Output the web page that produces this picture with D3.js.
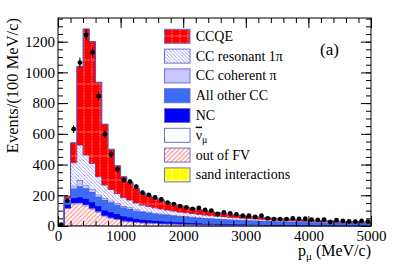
<!DOCTYPE html>
<html>
<head>
<meta charset="utf-8">
<script src="https://cdn.jsdelivr.net/npm/d3@7"></script>
<style>
  html, body { margin: 0; padding: 0; background: #fff; }
  svg { display: block; }
  svg text { font-family: "Liberation Serif", "Times New Roman", serif; fill: #000; }
</style>
</head>
<body>
<svg id="chart" width="399" height="270"></svg>
<script>
// lower edge of each 100 MeV/c bin
const binEdges = d3.range(0, 5000, 100);
const binWidth = 100;

// MC components, events per bin (bottom of stack first)
const sand    = [0,2,4,4,4,3,3,2,2,2, 2,2,1,1,1,1,1,1,1,1, 1,1,0,0,0,0,0,0,0,0, 0,0,0,0,0,0,0,0,0,0, 0,0,0,0,0,0,0,0,0,0];
const outFV   = [3,112,140,142,128,108,88,62,50,40, 30,26,22,19,17,15,13,12,11,10, 9,8,8,7,7,6,6,5,5,5, 4,4,4,3,3,3,3,3,2,2, 2,2,2,2,2,1,1,1,1,1];
const antiNu  = [0,3,5,6,6,5,5,5,4,4, 3,3,3,3,3,3,3,3,2,2, 2,2,2,2,2,2,2,2,2,2, 2,2,1,1,1,1,1,1,1,1, 1,1,1,1,1,1,1,1,1,1];
const nc      = [1,24,35,38,42,42,36,35,36,34, 30,27,24,21,19,17,16,15,14,13, 12,11,10,9,9,8,8,7,7,6, 6,6,5,5,5,5,4,4,4,4, 4,3,3,3,3,3,3,3,3,3];
const otherCC = [0,22,60,68,65,63,58,65,63,58, 55,54,50,47,46,44,42,40,38,37, 36,35,33,32,30,29,28,27,26,25, 24,23,23,22,21,20,20,19,19,18, 17,17,17,16,16,15,15,14,14,13];
const ccCoh   = [0,4,18,41,21,16,14,11,10,10, 10,9,8,7,6,5,5,4,4,3, 3,3,3,2,2,2,2,2,1,1, 1,1,1,1,1,1,1,1,1,1, 1,1,0,0,0,0,0,0,0,0];
const ccRes   = [0,14,150,228,196,171,117,87,73,64, 55,48,42,38,36,33,31,29,27,25, 23,21,20,19,17,16,15,14,13,12, 11,10,10,9,8,7,7,6,6,5, 5,4,4,4,3,3,3,3,2,2];
const ccqe    = [1,14,130,513,821,793,615,396,262,180, 136,115,95,78,70,64,57,51,45,41, 37,34,31,29,26,24,21,20,18,17, 16,14,13,13,12,11,10,10,9,9, 8,8,8,7,7,7,6,6,6,6];

// data, events per bin
const dataCounts = [8,165,630,1064,1244,1129,845,598,466,369, 299,288,256,217,202,186,173,152,143,130,
                    121,112,118,104,100,78,89,82,76,67, 67,60,67,50,45,45,45,50,46,48,
                    42,40,42,26,38,33,30,29,33,29];

const xMajor = [0, 1000, 2000, 3000, 4000, 5000];
const yMajor = [0, 200, 400, 600, 800, 1000, 1200];

const legendLabels = ["CCQE", "CC resonant 1\u03C0", "CC coherent \u03C0", "All other CC", "NC", "nubar", "out of FV", "sand interactions"];

const keys = ["sand", "outFV", "antiNu", "nc", "otherCC", "ccCoh", "ccRes", "ccqe"];
const series = { sand, outFV, antiNu, nc, otherCC, ccCoh, ccRes, ccqe };
const fills = {
  ccqe: "url(#pQE)", ccRes: "url(#pRes)", ccCoh: "#c8c8ff", otherCC: "#3b6cf5",
  nc: "#0000ff", antiNu: "#ffffff", outFV: "url(#pFV)", sand: "url(#pSand)"
};
const outline = "#5252c4";

const svg = d3.select("#chart");
const x = d3.scaleLinear().domain([0, 5000]).range([58, 371]);
const y = d3.scaleLinear().domain([0, 1354]).range([226, 18]);

// patterns
const defs = svg.append("defs");
const pQE = defs.append("pattern").attr("id", "pQE").attr("patternUnits", "userSpaceOnUse")
  .attr("width", 8).attr("height", 24);
pQE.append("rect").attr("width", 8).attr("height", 24).attr("fill", "#ff0000");
pQE.append("path").attr("d", "M4,0V24M0,12H8").attr("fill", "none")
  .attr("stroke", "#ffb4b4").attr("stroke-width", 0.7).attr("stroke-dasharray", "1.5,1");
const pSand = defs.append("pattern").attr("id", "pSand").attr("patternUnits", "userSpaceOnUse")
  .attr("width", 8).attr("height", 24);
pSand.append("rect").attr("width", 8).attr("height", 24).attr("fill", "#ffff00");
pSand.append("path").attr("d", "M4,0V24M0,12H8").attr("fill", "none")
  .attr("stroke", "#ffffb0").attr("stroke-width", 0.7);
const pRes = defs.append("pattern").attr("id", "pRes").attr("patternUnits", "userSpaceOnUse")
  .attr("width", 3.5).attr("height", 3.5);
pRes.append("rect").attr("width", 3.5).attr("height", 3.5).attr("fill", "#ffffff");
pRes.append("path").attr("d", "M-1,-1L4.5,4.5M-1,2.5L1,4.5M2.5,-1L4.5,1").attr("fill", "none")
  .attr("stroke", "#8080ff").attr("stroke-width", 0.75);
const pFV = defs.append("pattern").attr("id", "pFV").attr("patternUnits", "userSpaceOnUse")
  .attr("width", 4.5).attr("height", 4.5);
pFV.append("rect").attr("width", 4.5).attr("height", 4.5).attr("fill", "#ffffff");
pFV.append("path").attr("d", "M-1,5.5L5.5,-1M-1,1L1,-1M3.5,5.5L5.5,3.5").attr("fill", "none")
  .attr("stroke", "#ff7878").attr("stroke-width", 1);

// stacked histogram
const table = binEdges.map((lo, i) => {
  const row = { lo };
  keys.forEach(k => row[k] = series[k][i]);
  return row;
});
const stacked = d3.stack().keys(keys)(table);

const area = d3.area().x(d => x(d.x)).y0(d => y(d.y0)).y1(d => y(d.y1));
const topLine = d3.line().x(d => x(d.x)).y(d => y(d.y1));

const plot = svg.append("g");
stacked.forEach(layer => {
  const pts = [];
  layer.forEach(d => {
    const lo = d.data.lo;
    pts.push({ x: lo, y0: d[0], y1: d[1] });
    pts.push({ x: lo + binWidth, y0: d[0], y1: d[1] });
  });
  plot.append("path").attr("d", area(pts)).attr("fill", fills[layer.key]);
  plot.append("path").attr("d", topLine(pts)).attr("fill", "none")
    .attr("stroke", outline).attr("stroke-width", 1);
});

// data points with error bars
const pts = svg.append("g");
dataCounts.forEach((n, i) => {
  const cx = x(binEdges[i] + binWidth / 2);
  const err = Math.sqrt(n);
  pts.append("line").attr("x1", cx).attr("x2", cx)
    .attr("y1", y(n - err)).attr("y2", y(n + err))
    .attr("stroke", "#000").attr("stroke-width", 1);
  pts.append("circle").attr("cx", cx).attr("cy", y(n)).attr("r", 2.4).attr("fill", "#000");
});

// frame
svg.append("rect").attr("x", 58).attr("y", 18).attr("width", 313).attr("height", 208)
  .attr("fill", "none").attr("stroke", "#000").attr("stroke-width", 1);

// axes (ticks inside, ROOT style)
const xMinor = d3.range(0, 5001, 200);
const yMinor = d3.range(0, 1354, 50);
function tidy(g) { g.select(".domain").remove(); g.selectAll("line").attr("stroke", "#000"); }

svg.append("g").attr("transform", "translate(0,226)")
  .call(d3.axisBottom(x).tickValues(xMinor).tickSize(-5).tickFormat(""))
  .call(tidy);
svg.append("g").attr("transform", "translate(0,226)")
  .call(d3.axisBottom(x).tickValues(xMajor).tickSize(-10).tickPadding(4).tickFormat(d3.format("d")))
  .call(tidy)
  .selectAll("text").attr("font-size", 15);
svg.append("g").attr("transform", "translate(0,18)")
  .call(d3.axisTop(x).tickValues(xMinor).tickSize(-5).tickFormat(""))
  .call(tidy);
svg.append("g").attr("transform", "translate(0,18)")
  .call(d3.axisTop(x).tickValues(xMajor).tickSize(-10).tickFormat(""))
  .call(tidy);

svg.append("g").attr("transform", "translate(58,0)")
  .call(d3.axisLeft(y).tickValues(yMinor).tickSize(-5).tickFormat(""))
  .call(tidy);
svg.append("g").attr("transform", "translate(58,0)")
  .call(d3.axisLeft(y).tickValues(yMajor).tickSize(-10).tickPadding(3).tickFormat(d3.format("d")))
  .call(tidy)
  .selectAll("text").attr("font-size", 15);
svg.append("g").attr("transform", "translate(371,0)")
  .call(d3.axisRight(y).tickValues(yMinor).tickSize(-5).tickFormat(""))
  .call(tidy);
svg.append("g").attr("transform", "translate(371,0)")
  .call(d3.axisRight(y).tickValues(yMajor).tickSize(-10).tickFormat(""))
  .call(tidy);

// axis titles
svg.append("text").attr("transform", "translate(17.5,18) rotate(-90)")
  .attr("text-anchor", "end").attr("font-size", 16.5).text("Events/(100 MeV/c)");

const xt = svg.append("text").attr("x", 371).attr("y", 256).attr("text-anchor", "end").attr("font-size", 16);
xt.append("tspan").text("p");
xt.append("tspan").attr("dy", 4).attr("font-size", 11).text("\u03BC");
xt.append("tspan").attr("dy", -4).text(" (MeV/c)");

svg.append("text").attr("x", 320).attr("y", 55).attr("font-size", 17).text("(a)");

// legend
const legendKeys = ["ccqe", "ccRes", "ccCoh", "otherCC", "nc", "antiNu", "outFV", "sand"];
const leg = svg.append("g");
legendKeys.forEach((k, i) => {
  const top = 29.3 + i * 19.8;
  leg.append("rect").attr("x", 164.5).attr("y", top).attr("width", 25.5).attr("height", 14)
    .attr("fill", fills[k]).attr("stroke", "#7070cc").attr("stroke-width", 1);
  const t = leg.append("text").attr("x", 195.7).attr("y", top + 11.4).attr("font-size", 14);
  if (k === "antiNu") {
    t.append("tspan").style("text-decoration", "overline").text("\u03BD");
    t.append("tspan").attr("dy", 3.5).attr("font-size", 10).text("\u03BC");
  } else {
    t.text(legendLabels[i]);
  }
});
</script>
</body>
</html>
